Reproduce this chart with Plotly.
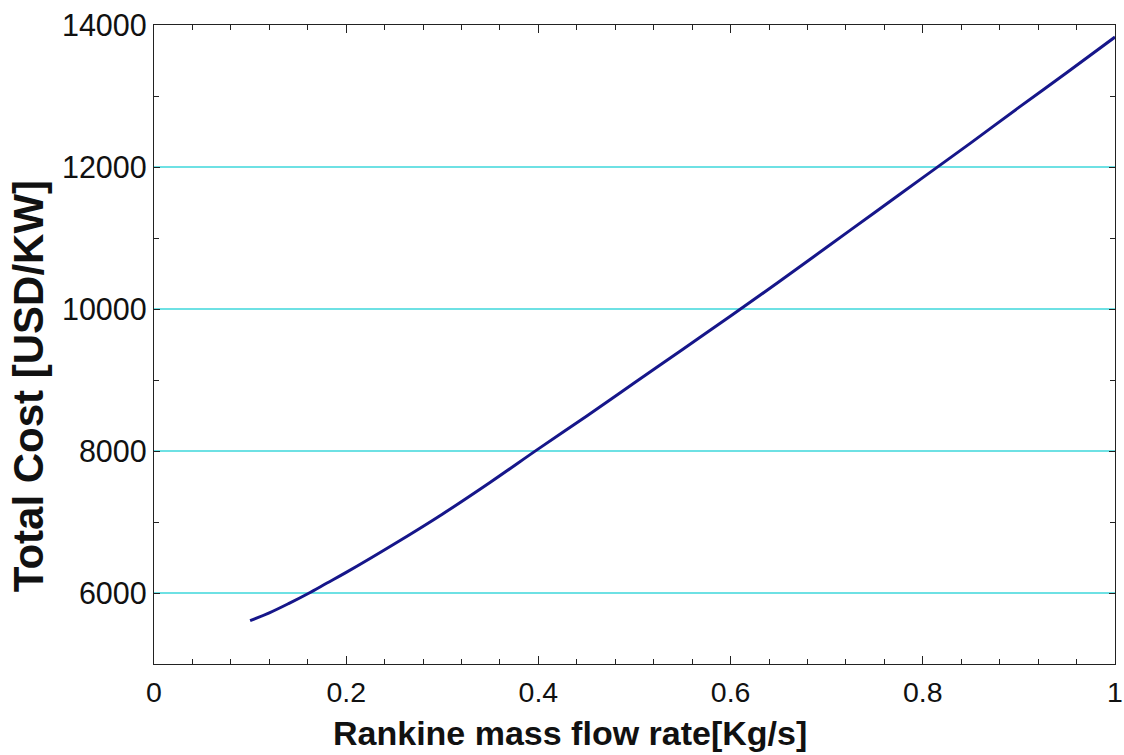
import plotly.graph_objects as go

mass_flow = [0.10, 0.12, 0.14, 0.16, 0.18, 0.20, 0.25, 0.30, 0.35, 0.40, 0.45, 0.50,
             0.55, 0.60, 0.65, 0.70, 0.75, 0.80, 0.85, 0.90, 0.95, 1.00]
total_cost = [5610, 5720, 5850, 5990, 6140, 6290, 6690, 7110, 7560, 8030, 8490, 8960,
              9430, 9900, 10380, 10870, 11360, 11850, 12340, 12840, 13330, 13830]

x_ticks = [0, 0.2, 0.4, 0.6, 0.8, 1]
x_labels = ["0", "0.2", "0.4", "0.6", "0.8", "1"]
y_ticks = [6000, 8000, 10000, 12000, 14000]
y_labels = ["6000", "8000", "10000", "12000", "14000"]

FONT = "Liberation Sans, Arial"

fig = go.Figure()
fig.add_trace(go.Scatter(x=mass_flow, y=total_cost, mode="lines",
                         line=dict(color="#16168a", width=3, shape="spline"),
                         showlegend=False))

axis_common = dict(showline=True, linecolor="#222", linewidth=1.3, mirror="ticks",
                   ticks="inside", tickcolor="#222", zeroline=False, automargin=False)

fig.update_xaxes(range=[0, 1], tickvals=x_ticks, ticktext=x_labels, ticklen=8, tickwidth=1.2,
                 showgrid=False, ticklabelstandoff=3,
                 tickfont=dict(family=FONT, size=28.5, color="#111"),
                 minor=dict(dtick=0.04, tick0=0, ticks="inside", ticklen=5, tickcolor="#222", showgrid=False),
                 **axis_common)
fig.update_yaxes(range=[5000, 14000], tickvals=y_ticks, ticktext=y_labels, ticklen=6, tickwidth=1.2,
                 showgrid=True, gridcolor="rgb(110,225,228)", gridwidth=1.6,
                 tickfont=dict(family=FONT, size=30.5, color="#111"),
                 minor=dict(dtick=1000, tick0=5000, ticks="inside", ticklen=5, tickcolor="#222", showgrid=False),
                 **axis_common)

fig.add_annotation(text="<b>Rankine mass flow rate[Kg/s]</b>", xref="paper", yref="paper",
                   x=0.433, y=-0.139, xanchor="center", yanchor="bottom", showarrow=False,
                   borderpad=0,
                   font=dict(family=FONT, size=34, color="#111"))
fig.add_annotation(text="<b>Total Cost [USD/KW]</b>", xref="paper", yref="paper",
                   x=-0.131, y=0.435, xanchor="center", yanchor="middle", showarrow=False,
                   textangle=-90, font=dict(family=FONT, size=42, color="#111"))

fig.update_layout(width=1124, height=755, margin=dict(l=154, r=9, t=25, b=91),
                  plot_bgcolor="white", paper_bgcolor="white")

fig.write_html("out.html")
